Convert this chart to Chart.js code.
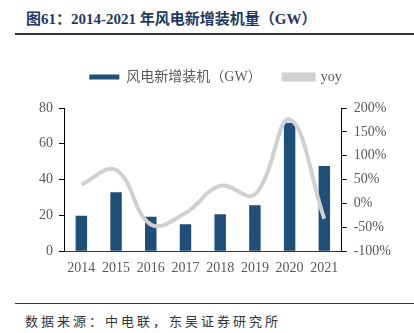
<!DOCTYPE html>
<html>
<head>
<meta charset="utf-8">
<script src="https://cdn.jsdelivr.net/npm/chart.js@4/dist/chart.umd.min.js"></script>
<style>
  body { margin: 0; width: 414px; height: 333px; background: #fff; position: relative; overflow: hidden; }
  #title { position: absolute; left: 26px; top: 7px; font: bold 15px "Liberation Serif", "Noto Sans CJK SC", serif; color: #1f3864; white-space: nowrap; }
  #topLine { position: absolute; left: 15px; right: 0; top: 33px; height: 2px; background: #333; }
  #bottomLine { position: absolute; left: 15px; right: 0; top: 303px; height: 1px; background: #333; }
  #source { position: absolute; left: 25px; top: 311px; font: 13px "Noto Sans CJK SC", serif; letter-spacing: 3px; color: #333; white-space: nowrap; }
  #wrap { position: absolute; left: 0; top: 40px; width: 414px; height: 238px; }
</style>
</head>
<body>
<div id="title">图61：2014-2021 年风电新增装机量（GW）</div>
<div id="topLine"></div>
<div id="wrap"><canvas id="chart"></canvas></div>
<div id="bottomLine"></div>
<div id="source">数据来源：中电联，东吴证券研究所</div>
<script>
//chart data
var years = ['2014', '2015', '2016', '2017', '2018', '2019', '2020', '2021'];
var newCapacity = [19.8, 33.0, 19.3, 15.0, 20.6, 25.7, 71.7, 47.6];
var yoy = [40, 70, -44, -20, 37, 19, 176, -32];

//extra room below the legend
const legendGap = {
    id: 'legendGap',
    beforeInit(chart) {
        const origFit = chart.legend.fit;
        chart.legend.fit = function () {
            origFit.bind(chart.legend)();
            this.height += 14;
        };
    }
};

function plot(element) {
    const ctx = document.getElementById(element).getContext('2d');
    const tickFont = { family: '"Liberation Serif", serif', size: 14 };

    new Chart(ctx, {
      data: {
        labels: years,
        datasets: [{
          type: 'bar',
          label: '风电新增装机（GW）',
          data: newCapacity,
          backgroundColor: '#1f4e79',
          yAxisID: 'y',
          barPercentage: 0.33,
          categoryPercentage: 1,
          order: 1
        }, {
          type: 'line',
          label: 'yoy',
          data: yoy,
          borderColor: '#d0d0d0',
          backgroundColor: '#d0d0d0',
          borderWidth: 4,
          pointRadius: 0,
          tension: 0.4,
          yAxisID: 'y1',
          order: 0
        }]
      },
      options: {
        responsive: true,
        maintainAspectRatio: false,
        animation: false,
        layout: { padding: { left: 33, right: 16, top: 8, bottom: 0 } },
        scales: {
          x: {
            grid: { display: false },
            border: { color: '#333' },
            ticks: { color: '#595959', font: tickFont, padding: 1 }
          },
          y: {
            position: 'left',
            min: 0, max: 80,
            ticks: { stepSize: 20, color: '#595959', font: tickFont, padding: 6 },
            grid: { drawOnChartArea: false, drawTicks: true, tickLength: 5, color: '#000' },
            border: { color: '#000' }
          },
          y1: {
            position: 'right',
            min: -100, max: 200,
            ticks: { stepSize: 50, color: '#595959', font: tickFont, padding: 7, callback: v => v + '%' },
            grid: { drawOnChartArea: false, drawTicks: true, tickLength: 5, color: '#000' },
            border: { color: '#000' }
          }
        },
        plugins: {
          legend: {
            position: 'top',
            labels: {
              boxWidth: 30, boxHeight: 5, color: '#595959', padding: 22,
              font: { family: '"Liberation Serif", "Noto Sans CJK SC", serif', size: 14 },
              sort: (a, b) => a.datasetIndex - b.datasetIndex
            }
          },
          tooltip: { enabled: false }
        }
      },
      plugins: [legendGap]
    });
}

plot('chart');
</script>
</body>
</html>
